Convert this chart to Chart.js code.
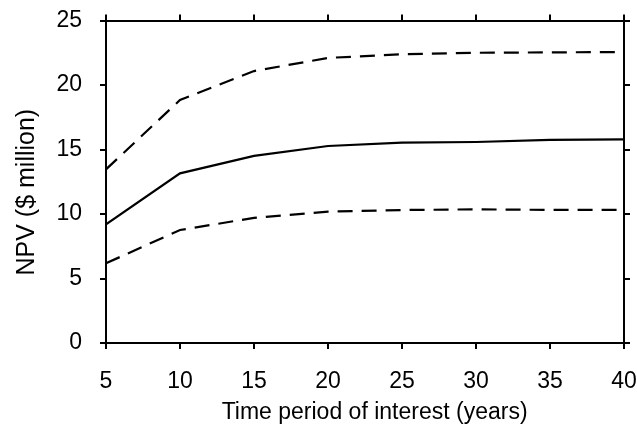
<!DOCTYPE html>
<html>
<head>
<meta charset="utf-8">
<script src="https://cdn.jsdelivr.net/npm/chart.js@4.4.1/dist/chart.umd.min.js"></script>
<style>
html,body{margin:0;padding:0;background:#fff;}
#wrap{width:637px;height:428px;position:relative;}
</style>
</head>
<body>
<div id="wrap"><canvas id="c" width="637" height="428"></canvas></div>
<script>
const years = [5, 10, 15, 20, 25, 30, 35, 40];
const npvMean = [9.2, 13.15, 14.5, 15.27, 15.53, 15.58, 15.74, 15.79];
const npvUpper = [13.46, 18.84, 21.08, 22.1, 22.38, 22.5, 22.53, 22.55];
const npvLower = [6.18, 8.76, 9.7, 10.18, 10.31, 10.36, 10.32, 10.32];
const xTitle = '   Time period of interest (years)';
const yTitle = 'NPV ($ million)   ';

const toPts = arr => years.map((x, i) => ({x: x, y: arr[i]}));
const FONT = "'Liberation Sans', Arial, Helvetica, sans-serif";

const axisCommon = {
  grid: {display: true, drawOnChartArea: false, drawTicks: true, tickLength: 6, color: '#000', lineWidth: 2},
  border: {display: true, color: '#000', width: 2}
};
const noPad = s => { s.paddingLeft = 0; s.paddingRight = 0; s.paddingTop = 0; s.paddingBottom = 0; };

new Chart(document.getElementById('c'), {
  type: 'line',
  data: {
    datasets: [
      {data: toPts(npvUpper), borderColor: '#000', borderWidth: 2.2, borderDash: [15, 9], pointRadius: 0, fill: false, tension: 0, xAxisID: 'x', yAxisID: 'y'},
      {data: toPts(npvMean), borderColor: '#000', borderWidth: 2.2, pointRadius: 0, fill: false, tension: 0, xAxisID: 'x', yAxisID: 'y'},
      {data: toPts(npvLower), borderColor: '#000', borderWidth: 2.2, borderDash: [15, 9], pointRadius: 0, fill: false, tension: 0, xAxisID: 'x', yAxisID: 'y'}
    ]
  },
  options: {
    responsive: false,
    animation: false,
    layout: {padding: 0},
    plugins: {legend: {display: false}, tooltip: {enabled: false}},
    scales: {
      x: Object.assign({}, axisCommon, {
        type: 'linear', position: 'bottom', min: 5, max: 40,
        ticks: {stepSize: 5, color: '#000', font: {family: FONT, size: 23}, padding: 19, maxRotation: 0},
        title: {display: true, text: xTitle, color: '#000', font: {family: FONT, size: 23}, padding: {top: 0, bottom: 2}},
        afterFit: s => { s.height = 85; noPad(s); }
      }),
      x2: Object.assign({}, axisCommon, {
        type: 'linear', position: 'top', min: 5, max: 40,
        ticks: {stepSize: 5, display: false},
        afterFit: s => { s.height = 20.5; noPad(s); }
      }),
      y: Object.assign({}, axisCommon, {
        type: 'linear', position: 'left', min: 0, max: 25,
        ticks: {stepSize: 5, color: '#000', font: {family: FONT, size: 23}, padding: 18},
        title: {display: true, text: yTitle, color: '#000', font: {family: FONT, size: 25}, padding: {top: 12, bottom: 0}},
        afterFit: s => { s.width = 106; noPad(s); }
      }),
      y2: Object.assign({}, axisCommon, {
        type: 'linear', position: 'right', min: 0, max: 25,
        ticks: {stepSize: 5, display: false},
        afterFit: s => { s.width = 13; noPad(s); }
      })
    }
  }
});
</script>
</body>
</html>
